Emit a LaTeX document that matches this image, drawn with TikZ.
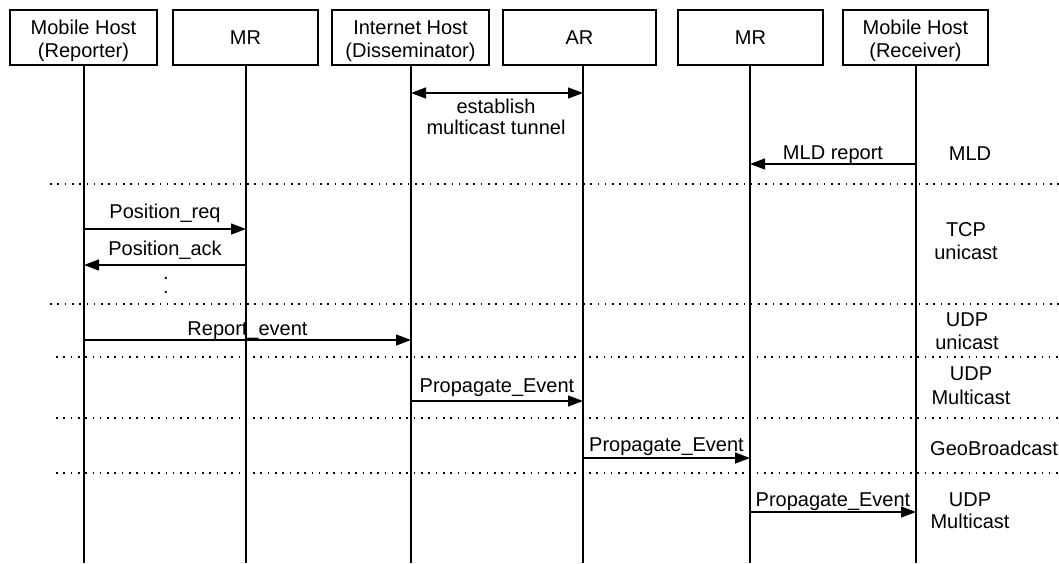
\documentclass[tikz,border=0pt]{standalone}
\usepackage{fontspec}
\setmainfont{Liberation Sans}
\usetikzlibrary{arrows.meta}
\begin{document}
\begin{tikzpicture}[x=1pt,y=-1pt,
  txt/.style={font=\fontsize{20}{23}\selectfont, inner sep=0pt},
  actor/.style={txt, draw, line width=1.3pt, minimum height=55pt, align=center},
  life/.style={line width=1.3pt},
  msg/.style={line width=1.3pt, -{Triangle[length=15pt,width=11pt]}},
  both/.style={line width=1.3pt, {Triangle[length=15pt,width=11pt]}-{Triangle[length=15pt,width=11pt]}},
  lbl/.style={txt, anchor=base, midway},
  sep/.style={line width=1.6pt, dash pattern=on 1.6pt off 5.7pt},
  side/.style={txt, anchor=base}]
\useasboundingbox (0,0) rectangle (1059,563);

% participants
\node[actor, minimum width=147pt] (b1) at (83.5,37.5) {\rule{0pt}{22pt}Mobile Host\\(Reporter)};
\node[actor, minimum width=145pt] (b2) at (245.5,37.5) {MR};
\node[actor, minimum width=157pt] (b3) at (410.5,37.5) {\rule{0pt}{22pt}Internet Host\\(Disseminator)};
\node[actor, minimum width=153pt] (b4) at (579.5,37.5) {AR};
\node[actor, minimum width=145pt] (b5) at (750.5,37.5) {MR};
\node[actor, minimum width=145pt] (b6) at (915.5,37.5) {\rule{0pt}{22pt}Mobile Host\\(Receiver)};

% lifeline ends
\coordinate (e1) at (84,563);
\coordinate (e2) at (246,563);
\coordinate (e3) at (411,563);
\coordinate (e4) at (583,563);
\coordinate (e5) at (750,563);
\coordinate (e6) at (916,563);
\foreach \i in {1,...,6} \draw[life] (b\i.south -| e\i) -- (e\i);

% message rows
\coordinate (yest) at (0,93);
\coordinate (ymld) at (0,164);
\coordinate (yreq) at (0,229);
\coordinate (yack) at (0,265);
\coordinate (yrep) at (0,340);
\coordinate (yp1) at (0,401);
\coordinate (yp2) at (0,458);
\coordinate (yp3) at (0,512);

% section separators
\coordinate (s1a) at (50,184);  \coordinate (s1b) at (1059,184);
\coordinate (s2a) at (50,304);  \coordinate (s2b) at (1059,304);
\coordinate (s3a) at (56,357);  \coordinate (s3b) at (1059,357);
\coordinate (s4a) at (56,418);  \coordinate (s4b) at (1059,418);
\coordinate (s5a) at (56,473);  \coordinate (s5b) at (1059,473);
\foreach \i in {1,...,5} \draw[sep] (s\i a) -- (s\i b);

% messages
\draw[both] (e3 |- yest) -- (e4 |- yest);
\node[side] (est1) at (496,113) {establish};
\node[side] (est2) at (496,134) {multicast tunnel};

\draw[msg] (e6 |- ymld) -- node[lbl, yshift=5pt] (lmld) {MLD report} (e5 |- ymld);
\draw[msg] (e1 |- yreq) -- node[lbl, yshift=11pt] (lreq) {Position\_req} (e2 |- yreq);
\draw[msg] (e2 |- yack) -- node[lbl, yshift=10pt] (lack) {Position\_ack} (e1 |- yack);
\node[txt, align=center, font=\fontsize{20}{14}\selectfont] (dots) at (166,285.4) {.\\.};
\draw[msg] (e1 |- yrep) -- node[lbl, yshift=5pt] (lrep) {Report\_event} (e3 |- yrep);
\draw[msg] (e3 |- yp1) -- node[lbl, yshift=9pt] (lp1) {Propagate\_Event} (e4 |- yp1);
\draw[msg] (e4 |- yp2) -- node[lbl, yshift=7pt] (lp2) {Propagate\_Event} (e5 |- yp2);
\draw[msg] (e5 |- yp3) -- node[lbl, yshift=6pt] (lp3) {Propagate\_Event} (e6 |- yp3);

% protocol labels
\node[side] (pmld) at (970,160.5) {MLD};
\node[side] (ptcp1) at (966,236) {TCP};
\node[side] (ptcp2) at (966,259) {unicast};
\node[side] (pudp1) at (967,326) {UDP};
\node[side] (pudp2) at (967,349) {unicast};
\node[side] (pmc1) at (971,380.5) {UDP};
\node[side] (pmc2) at (971,404) {Multicast};
\node[side, anchor=base west] (pgeo) at (930,455) {GeoBroadcast};
\node[side] (pmc3) at (970,506) {UDP};
\node[side] (pmc4) at (970,528) {Multicast};
\end{tikzpicture}
\end{document}
